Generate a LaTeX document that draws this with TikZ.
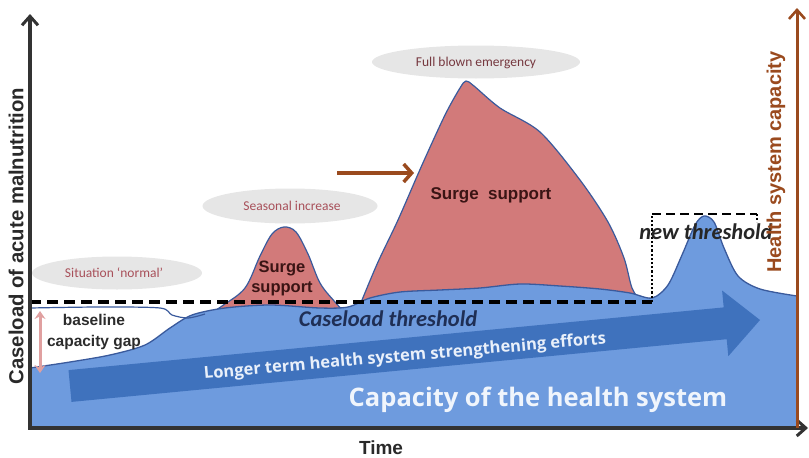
\documentclass[tikz,border=0pt]{standalone}
\usepackage{fontspec}
\setmainfont{Liberation Sans}
\newfontfamily\osans{Open Sans}
\newfontfamily\carl{Carlito}
\usetikzlibrary{arrows.meta}
\definecolor{capblue}{HTML}{6E9BDE}
\definecolor{arrowblue}{HTML}{3F72BD}
\definecolor{edgeblue}{HTML}{3A5A9C}
\definecolor{surgered}{HTML}{D27A7A}
\definecolor{ellgray}{HTML}{E6E6E6}
\definecolor{brownax}{HTML}{9A4A1E}
\definecolor{labred}{HTML}{A8505A}
\definecolor{axgray}{HTML}{333333}
\definecolor{navytext}{HTML}{1F2F55}
\definecolor{surgetext}{HTML}{3A1414}
\definecolor{gaparrow}{HTML}{E0A0A0}
\tikzset{
  surge/.style={fill=surgered, draw=edgeblue, line width=1.2pt},
  ellbox/.style={ellipse, fill=ellgray, draw=none, inner sep=0pt},
  elltext/.style={font=\carl\fontsize{13.5}{15}\selectfont, text=labred},
  axisline/.style={draw=axgray, line width=3.5pt, -{Straight Barb[length=9pt,width=16pt,line width=3pt]}},
  thr/.style={draw=black, line width=3.5pt, dash pattern=on 11pt off 6pt},
  boldlab/.style={font=\bfseries\fontsize{19}{22}\selectfont},
  surgelab/.style={font=\bfseries\fontsize{17}{20}\selectfont, text=surgetext, align=center},
}
\usetikzlibrary{shapes.geometric}
\begin{document}
\begin{tikzpicture}[x=1pt,y=-1pt]
\useasboundingbox (0,0) rectangle (809,458);
% surge regions
\filldraw[surge] plot[smooth,tension=0.55] coordinates {(198,322) (222,306) (245,288) (260,256) (272,234) (284,227) (296,232) (308,254) (320,283) (335,302) (350,318)} -- cycle;
\filldraw[surge] plot[smooth,tension=0.5] coordinates {(352,325) (362,300) (378,262) (398,220) (422,165) (445,115) (460,88) (466,81) (474,86) (500,108) (540,132) (580,180) (608,222) (624,258) (632,288) (642,305) (645,325)} -- cycle;
% capacity area
\fill[capblue] (30,428) -- plot[smooth,tension=0.5] coordinates {(30,368) (70,362) (110,355) (145,345) (170,328) (192,315) (225,308) (270,305) (320,308) (348,307) (370,298) (400,292) (440,290) (480,288) (520,284) (560,286) (600,289) (630,293) (652,298) (668,285) (682,255) (695,225) (704,216) (714,222) (724,248) (738,276) (760,289) (797,296)} -- (797,428) -- cycle;
\draw[edgeblue, line width=1.3pt] plot[smooth,tension=0.5] coordinates {(30,368) (70,362) (110,355) (145,345) (170,328) (192,315) (225,308) (270,305) (320,308) (348,307) (370,298) (400,292) (440,290) (480,288) (520,284) (560,286) (600,289) (630,293) (652,298) (668,285) (682,255) (695,225) (704,216) (714,222) (724,248) (738,276) (760,289) (797,296)};
% normal caseload line
\draw[edgeblue, line width=1.2pt] plot[smooth,tension=0.5] coordinates {(30,308) (100,307) (160,308) (172,315) (188,318) (205,314)};
% big arrow
\fill[arrowblue] (68.5,370.1) -- (723.7,307.4) -- (722.1,290.5) -- (760,320) -- (728.3,356.2) -- (726.7,339.2) -- (71.5,401.9) -- cycle;
\node[font=\osans\bfseries\fontsize{16.5}{18}\selectfont, text=white!85!capblue, rotate=5, inner sep=0pt] (longer) at (405,357) {Longer term health system strengthening efforts};
% thresholds
\coordinate (thrL) at (30,302);
\coordinate (thrR) at (652,302);
\coordinate (ntL) at (652,214);
\coordinate (ntR) at (757,214);
\coordinate (ntD) at (757,222);
\draw[thr] (thrL) -- (thrR);
\draw[black, line width=2.2pt, dotted] (thrR) -- (ntL);
\draw[black, line width=2.6pt, dash pattern=on 9pt off 5pt] (ntL) -- (ntR);
\draw[black, line width=2pt, dotted] (ntR) -- (ntD);
% gap arrow
\coordinate (gapT) at (40,311);
\coordinate (gapB) at (40,373);
\draw[gaparrow, line width=3pt, {Stealth[length=8pt,width=11pt]}-{Stealth[length=8pt,width=11pt]}] (gapT) -- (gapB);
% ellipses
\node[ellbox, minimum width=170pt, minimum height=33pt] (normal) at (117,273) {};
\node[elltext] (normalt) at (114,273) {Situation ‘normal’};
\node[ellbox, minimum width=175pt, minimum height=35pt] (season) at (290,206) {};
\node[elltext] (seasont) at (292,206) {Seasonal increase};
\node[ellbox, minimum width=208pt, minimum height=33pt] (full) at (476,62) {};
\node[elltext, text=labred!70!black] (fullt) at (476,63) {Full blown emergency};
% brown arrow
\coordinate (brA) at (337,173);
\coordinate (brB) at (414,173);
\draw[brownax, line width=4.5pt, -{Straight Barb[length=8pt,width=18pt,line width=3.5pt]}] (brA) -- (brB);
% labels
\node[surgelab] (surge2) at (491,195) {Surge\hspace{0.55em}support};
\node[surgelab, font=\bfseries\fontsize{16.5}{20}\selectfont] (surge1) at (282,278) {Surge\\support};
\node[font=\bfseries\fontsize{15.5}{20.5}\selectfont, text=axgray!85!black, align=center] (gap) at (94,332) {baseline\\capacity gap};
\node[font=\carl\bfseries\itshape\fontsize{22.5}{24}\selectfont, text=navytext, inner sep=0pt] (cthr) at (388,319) {Caseload threshold};
\node[font=\carl\bfseries\itshape\fontsize{22.5}{24}\selectfont, text=black!85] (nthr) at (706,232) {new threshold};
\node[font=\osans\bfseries\fontsize{25.5}{28}\selectfont, text=white!90!capblue] (capt) at (538,400) {Capacity of the health system};
% axes
\coordinate (o) at (30,428);
\coordinate (ytop) at (30,14);
\coordinate (xend) at (808,428);
\coordinate (rbot) at (797,428);
\coordinate (rtop) at (797,8);
\draw[axisline] (o) -- (ytop);
\draw[axisline] ([xshift=-2pt]o) -- (xend);
\draw[draw=brownax, line width=3pt, -{Straight Barb[length=9pt,width=16pt,line width=2.6pt]}] (rbot) -- (rtop);
\node[boldlab, font=\bfseries\fontsize{20.3}{22}\selectfont, rotate=90, text=axgray!80!black] (ylab) at (16,236) {Caseload of acute malnutrition};
\node[boldlab, font=\bfseries\fontsize{20}{22}\selectfont, rotate=90, text=brownax] (rlab) at (776,162) {Health system capacity};
\node[boldlab, text=axgray!80!black] (tlab) at (381,448) {Time};
\end{tikzpicture}
\end{document}
